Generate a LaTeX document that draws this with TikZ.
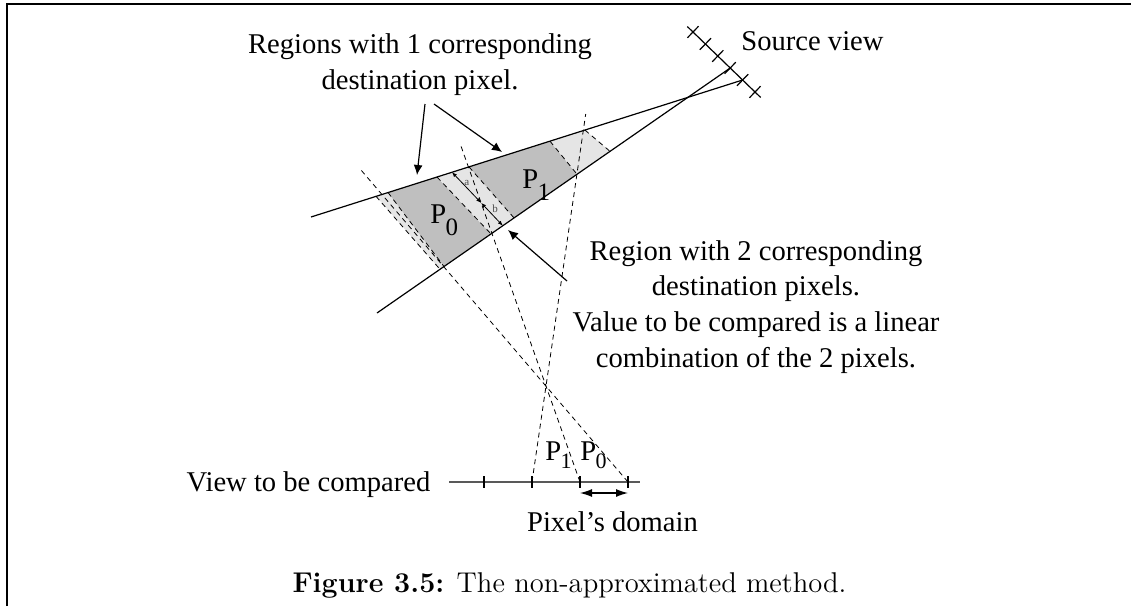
\documentclass[tikz,border=0pt]{standalone}
\usepackage{fontspec}
\newfontfamily\tms{Liberation Serif}
\usetikzlibrary{arrows.meta}
\definecolor{dk}{gray}{0.75}
\definecolor{lt}{gray}{0.9}
\begin{document}
\begin{tikzpicture}[x=0.5pt,y=-0.5pt,
  lbl/.style={font=\tms\fontsize{14.3}{17.9}\selectfont, inner sep=0pt, align=center},
  sline/.style={line width=0.6pt},
  dline/.style={dash pattern=on 2.5pt off 2pt, line width=0.4pt},
  ptr/.style={-{Latex[length=5pt,width=4.5pt]}, line width=0.6pt},
  smallptr/.style={{Latex[length=2.5pt,width=2pt]}-{Latex[length=2.5pt,width=2pt]}, line width=0.4pt},
  tiny/.style={font=\tms\fontsize{5.5}{6}\selectfont, text=black!70, inner sep=0pt}]
\useasboundingbox (0,0) rectangle (1131,606);
% frame
\draw[line width=1.3pt] (7,606) -- (7,4) -- (1131,4);
% strip corners
\coordinate (a1) at (376,196.3);
\coordinate (a2) at (388,192.5);
\coordinate (a3) at (437,177.0);
\coordinate (a4) at (469,166.9);
\coordinate (a5) at (550,141.2);
\coordinate (a6) at (585,130.1);
\coordinate (b1) at (440,269.3);
\coordinate (b2) at (444,266.5);
\coordinate (b3) at (491,233.9);
\coordinate (b4) at (514,217.9);
\coordinate (b5) at (577,174.2);
\coordinate (b6) at (610,151.3);
\fill[lt] (a1) -- (a2) -- (b2) -- (b1) -- cycle;
\fill[dk] (a2) -- (a3) -- (b3) -- (b2) -- cycle;
\fill[lt] (a3) -- (a4) -- (b4) -- (b3) -- cycle;
\fill[dk] (a4) -- (a5) -- (b5) -- (b4) -- cycle;
\fill[lt] (a5) -- (a6) -- (b6) -- (b5) -- cycle;
\foreach \i in {1,...,6} \draw[dline] (a\i) -- (b\i);
% source view
\coordinate (p4) at (730.2,68);
\coordinate (p5) at (742.6,80);
\coordinate (sv0) at (687.3,26.5);
\coordinate (sv1) at (760.7,97.5);
\draw[sline] (sv0) -- (sv1);
\foreach \i in {0,...,5}
  \draw[sline] ({693+12.4*\i+5.6},{32+12*\i-5.8}) -- ({693+12.4*\i-5.6},{32+12*\i+5.8});
\coordinate (Aend) at (311,217);
\coordinate (Bend) at (377,313);
\draw[sline] (p5) -- (Aend);
\draw[sline] (p4) -- (Bend);
% view to be compared
\coordinate (v0) at (449,482);
\coordinate (v1) at (640,482);
\draw[line width=0.8pt, black!65] (v0) -- (v1);
\foreach \x/\n in {484/t0,532/t1,580/t2,628/t3} {
  \coordinate (\n) at (\x,482);
  \draw[sline] (\x,476) -- (\x,488);
}
\coordinate (r1) at (361,170);
\coordinate (r2) at (460.6,145);
\coordinate (r3) at (585.7,114);
\draw[dline] (t3) -- (r1);
\draw[dline] (t2) -- (r2);
\draw[dline] (t1) -- (r3);
% pixel's domain
\coordinate (d0) at (580,493);
\coordinate (d1) at (628,493);
\draw[{Latex[length=6pt,width=4pt]}-{Latex[length=6pt,width=4pt]}, line width=0.6pt] (d0) -- (d1);
% a / b arrows
\coordinate (ab0) at (452,172.2);
\coordinate (ab1) at (481.2,202.9);
\coordinate (ab2) at (502.8,225.7);
\draw[smallptr] (ab0) -- (ab1);
\draw[smallptr] (ab1) -- (ab2);
\node[tiny] (la) at (466.7,182.7) {a};
\node[tiny] (lb) at (495,208.3) {b};
% labels
\node[lbl] (reg1) at (420,65) {Regions with 1 corresponding\\destination pixel.};
\node[lbl] (reg2) at (756,307) {Region with 2 corresponding\\destination pixels.\\Value to be compared is a linear\\combination of the 2 pixels.};
\node[lbl] (src) at (812.5,41) {Source view};
\node[lbl] (vtc) at (308.5,485) {View to be compared};
\node[lbl] (pd) at (612.5,522) {Pixel’s domain};
\node[lbl, anchor=base west] (P0) at (430,223) {P\kern-0.3pt\raisebox{-0.42em}{\fontsize{12.5}{12}\selectfont 0}};
\node[lbl, anchor=base west] (P1) at (522,188) {P\kern-0.3pt\raisebox{-0.42em}{\fontsize{12.5}{12}\selectfont 1}};
\node[lbl, anchor=base west] (q1) at (545,460) {P\kern-0.3pt\raisebox{-0.3em}{\fontsize{11}{12}\selectfont 1}};
\node[lbl, anchor=base west] (q0) at (580,460) {P\kern-0.3pt\raisebox{-0.3em}{\fontsize{11}{12}\selectfont 0}};
% pointers
\coordinate (k1) at (425,104);
\coordinate (k2) at (434,104);
\coordinate (k3) at (567,281);
\coordinate (e1) at (417,175);
\coordinate (e2) at (502,152);
\coordinate (e3) at (508,230);
\draw[ptr] (k1) -- (e1);
\draw[ptr] (k2) -- (e2);
\draw[ptr] (k3) -- (e3);
% caption
\node[font=\fontsize{14.3}{17}\selectfont, inner sep=0pt] (cap) at (569.5,585) {\textbf{Figure 3.5:} The non-approximated method.};
\end{tikzpicture}
\end{document}
